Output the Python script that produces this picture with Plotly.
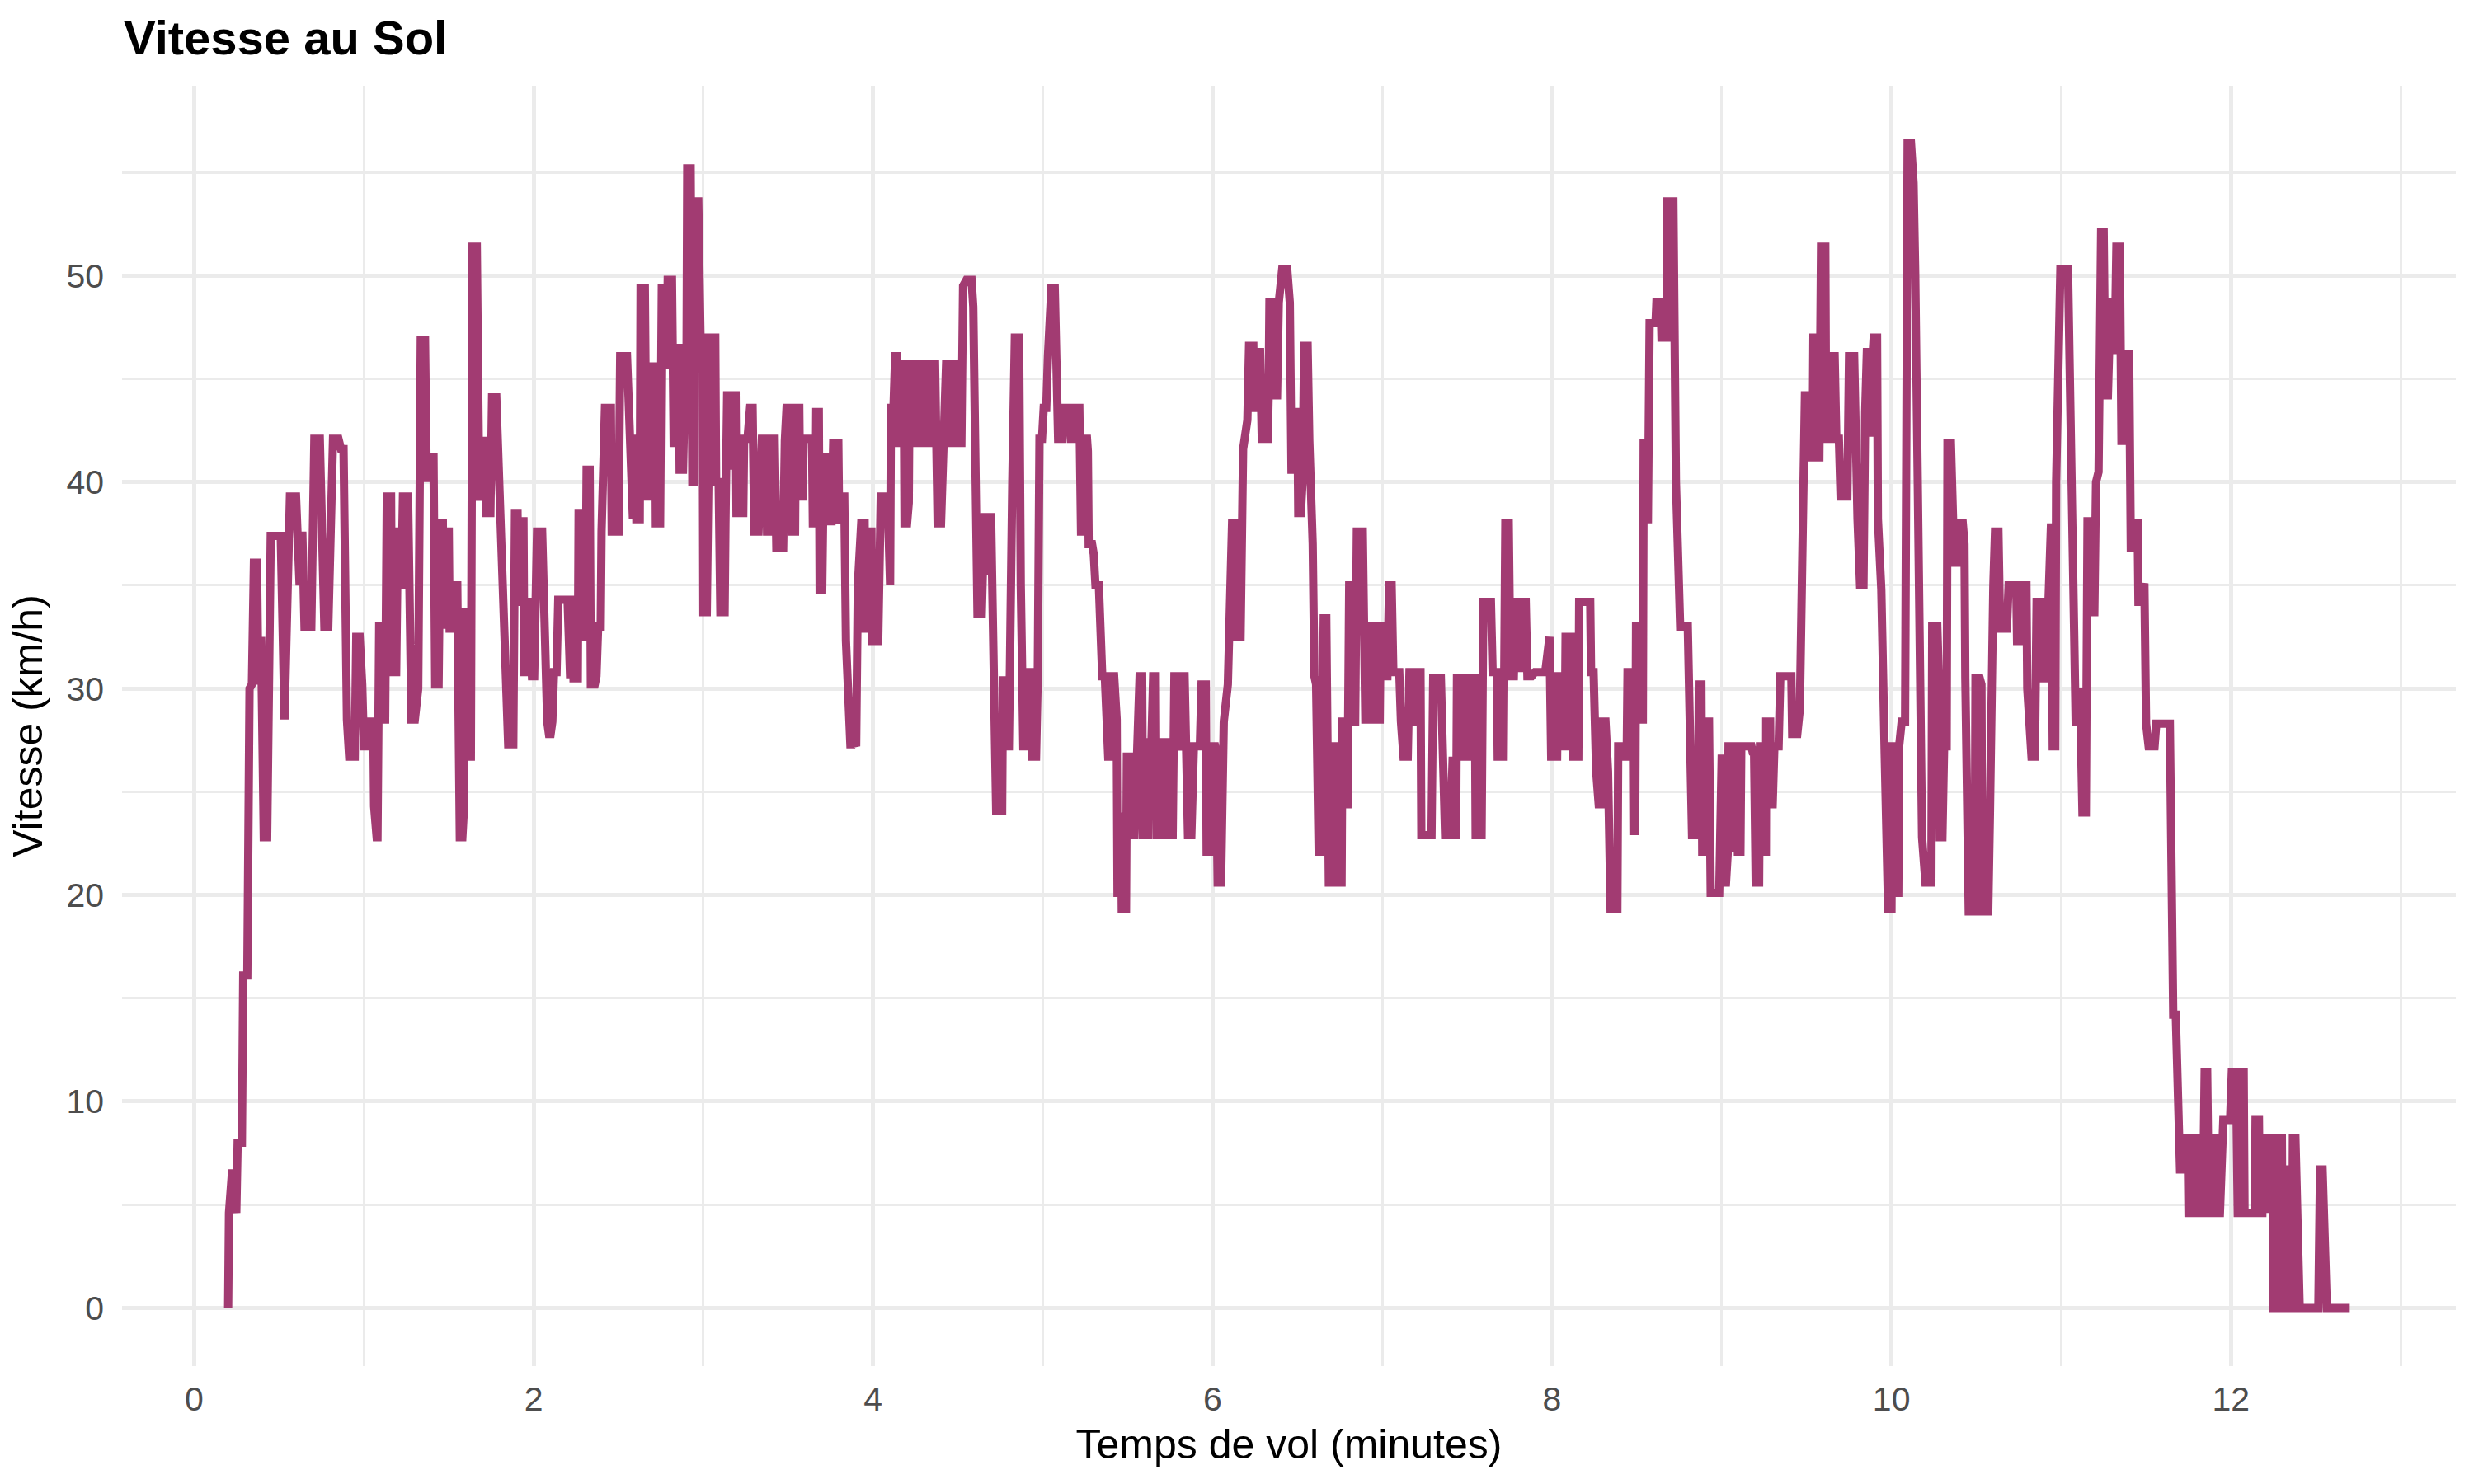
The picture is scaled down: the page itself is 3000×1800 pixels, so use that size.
import plotly.graph_objects as go

# Temps de vol (minutes) et vitesse au sol (km/h)
temps_min = [
    0.200, 0.205, 0.224, 0.248, 0.256, 0.281, 0.289, 0.313, 0.326, 0.340, 0.352, 0.370, 0.378, 0.394, 0.410, 0.430,
    0.451, 0.510, 0.532, 0.550, 0.564, 0.600, 0.621, 0.637, 0.650, 0.690, 0.708, 0.740, 0.750, 0.767, 0.790, 0.800,
    0.808, 0.818, 0.850, 0.865, 0.880, 0.892, 0.900, 0.913, 0.946, 0.955, 0.975, 0.990, 1.000, 1.020, 1.035, 1.055,
    1.060, 1.075, 1.080, 1.090, 1.105, 1.110, 1.125, 1.135, 1.160, 1.165, 1.190, 1.200, 1.215, 1.220, 1.230, 1.260,
    1.280, 1.300, 1.320, 1.335, 1.360, 1.370, 1.385, 1.395, 1.410, 1.420, 1.440, 1.450, 1.465, 1.470, 1.485, 1.500,
    1.505, 1.520, 1.535, 1.550, 1.565, 1.580, 1.590, 1.595, 1.605, 1.612, 1.630, 1.640, 1.665, 1.680, 1.695, 1.710,
    1.720, 1.745, 1.755, 1.780, 1.800, 1.820, 1.850, 1.880, 1.890, 1.905, 1.910, 1.920, 1.940, 1.945, 1.960, 1.970,
    1.990, 2.003, 2.010, 2.020, 2.050, 2.070, 2.080, 2.090, 2.100, 2.110, 2.120, 2.135, 2.145, 2.200, 2.205, 2.215,
    2.220, 2.230, 2.235, 2.260, 2.265, 2.285, 2.290, 2.305, 2.312, 2.330, 2.337, 2.360, 2.370, 2.380, 2.395, 2.400,
    2.420, 2.455, 2.460, 2.500, 2.510, 2.550, 2.570, 2.575, 2.585, 2.590, 2.600, 2.605, 2.625, 2.630, 2.655, 2.665,
    2.685, 2.690, 2.700, 2.715, 2.720, 2.745, 2.755, 2.775, 2.782, 2.790, 2.815, 2.825, 2.835, 2.840, 2.855, 2.860,
    2.880, 2.890, 2.900, 2.905, 2.925, 2.935, 2.945, 2.950, 2.970, 2.983, 2.995, 3.000, 3.020, 3.040, 3.070, 3.075,
    3.090, 3.100, 3.125, 3.130, 3.140, 3.160, 3.165, 3.175, 3.190, 3.195, 3.235, 3.240, 3.260, 3.275, 3.290, 3.300,
    3.325, 3.345, 3.370, 3.375, 3.395, 3.400, 3.420, 3.430, 3.470, 3.480, 3.490, 3.515, 3.520, 3.540, 3.545, 3.565,
    3.570, 3.585, 3.590, 3.640, 3.645, 3.660, 3.665, 3.680, 3.685, 3.700, 3.710, 3.730, 3.735, 3.755, 3.765, 3.795,
    3.800, 3.815, 3.830, 3.840, 3.850, 3.866, 3.895, 3.900, 3.910, 3.930, 3.950, 3.955, 3.970, 3.975, 3.990, 3.995,
    4.030, 4.040, 4.045, 4.085, 4.090, 4.100, 4.105, 4.120, 4.130, 4.140, 4.145, 4.160, 4.170, 4.180, 4.185, 4.200,
    4.210, 4.215, 4.235, 4.240, 4.260, 4.265, 4.290, 4.295, 4.330, 4.335, 4.365, 4.380, 4.400, 4.420, 4.430, 4.450,
    4.455, 4.470, 4.475, 4.490, 4.495, 4.520, 4.530, 4.550, 4.580, 4.590, 4.600, 4.615, 4.640, 4.650, 4.655, 4.670,
    4.675, 4.680, 4.695, 4.700, 4.710, 4.725, 4.760, 4.765, 4.780, 4.785, 4.800, 4.810, 4.820, 4.835, 4.860, 4.870,
    4.885, 4.910, 4.915, 4.930, 4.935, 4.960, 4.970, 4.980, 4.995, 5.005, 5.020, 5.030, 5.050, 5.070, 5.090, 5.115,
    5.125, 5.160, 5.165, 5.185, 5.190, 5.215, 5.225, 5.240, 5.245, 5.260, 5.265, 5.270, 5.290, 5.300, 5.310, 5.330,
    5.350, 5.365, 5.385, 5.400, 5.405, 5.420, 5.435, 5.440, 5.455, 5.460, 5.465, 5.490, 5.495, 5.520, 5.525, 5.540,
    5.545, 5.555, 5.570, 5.585, 5.590, 5.620, 5.625, 5.640, 5.650, 5.665, 5.670, 5.685, 5.690, 5.700, 5.705, 5.720,
    5.725, 5.740, 5.745, 5.765, 5.775, 5.800, 5.810, 5.820, 5.835, 5.840, 5.855, 5.875, 5.890, 5.925, 5.935, 5.960,
    5.965, 5.990, 6.000, 6.015, 6.020, 6.030, 6.050, 6.066, 6.090, 6.115, 6.135, 6.140, 6.165, 6.180, 6.205, 6.215,
    6.240, 6.245, 6.255, 6.262, 6.280, 6.290, 6.325, 6.330, 6.335, 6.355, 6.360, 6.380, 6.390, 6.410, 6.440, 6.455,
    6.465, 6.480, 6.487, 6.500, 6.505, 6.520, 6.530, 6.540, 6.560, 6.570, 6.590, 6.600, 6.610, 6.625, 6.640, 6.655,
    6.670, 6.685, 6.720, 6.725, 6.740, 6.745, 6.760, 6.765, 6.780, 6.785, 6.795, 6.805, 6.825, 6.830, 6.840, 6.850,
    6.885, 6.900, 6.925, 6.930, 6.950, 6.955, 6.985, 6.990, 7.005, 7.010, 7.030, 7.040, 7.055, 7.065, 7.100, 7.110,
    7.125, 7.150, 7.160, 7.175, 7.180, 7.200, 7.210, 7.225, 7.230, 7.290, 7.300, 7.345, 7.360, 7.370, 7.400, 7.405,
    7.415, 7.420, 7.435, 7.440, 7.460, 7.465, 7.485, 7.490, 7.505, 7.510, 7.525, 7.530, 7.545, 7.550, 7.585, 7.595,
    7.640, 7.650, 7.675, 7.680, 7.715, 7.725, 7.745, 7.755, 7.775, 7.785, 7.800, 7.810, 7.825, 7.845, 7.855, 7.880,
    7.900, 7.960, 7.975, 7.985, 7.995, 8.030, 8.035, 8.055, 8.060, 8.075, 8.080, 8.120, 8.125, 8.155, 8.160, 8.225,
    8.230, 8.245, 8.260, 8.275, 8.290, 8.300, 8.315, 8.320, 8.330, 8.345, 8.385, 8.390, 8.420, 8.425, 8.440, 8.445,
    8.475, 8.480, 8.490, 8.495, 8.515, 8.525, 8.535, 8.540, 8.550, 8.555, 8.565, 8.575, 8.610, 8.615, 8.640, 8.645,
    8.675, 8.680, 8.715, 8.730, 8.745, 8.755, 8.800, 8.810, 8.825, 8.860, 8.865, 8.880, 8.885, 8.900, 8.905, 8.925,
    8.935, 8.985, 8.990, 9.000, 9.005, 9.025, 9.035, 9.040, 9.055, 9.060, 9.070, 9.075, 9.090, 9.095, 9.110, 9.115,
    9.175, 9.185, 9.190, 9.200, 9.220, 9.225, 9.235, 9.240, 9.260, 9.262, 9.285, 9.290, 9.300, 9.310, 9.335, 9.345,
    9.410, 9.415, 9.445, 9.460, 9.470, 9.480, 9.490, 9.510, 9.520, 9.535, 9.540, 9.555, 9.560, 9.575, 9.585, 9.610,
    9.615, 9.635, 9.645, 9.665, 9.675, 9.690, 9.700, 9.740, 9.750, 9.780, 9.790, 9.800, 9.815, 9.835, 9.845, 9.855,
    9.875, 9.880, 9.890, 9.895, 9.915, 9.920, 9.940, 9.950, 9.960, 9.980, 10.000, 10.005, 10.020, 10.025, 10.040, 10.045,
    10.060, 10.080, 10.095, 10.115, 10.130, 10.140, 10.155, 10.165, 10.180, 10.200, 10.235, 10.240, 10.270, 10.280, 10.285, 10.300,
    10.310, 10.325, 10.330, 10.350, 10.370, 10.390, 10.395, 10.420, 10.430, 10.435, 10.440, 10.455, 10.490, 10.495, 10.520, 10.530,
    10.535, 10.570, 10.580, 10.590, 10.600, 10.610, 10.630, 10.640, 10.680, 10.690, 10.735, 10.740, 10.770, 10.780, 10.795, 10.800,
    10.825, 10.845, 10.855, 10.885, 10.895, 10.910, 10.930, 10.940, 10.950, 10.965, 10.970, 10.980, 10.995, 11.040, 11.050, 11.060,
    11.085, 11.100, 11.110, 11.125, 11.145, 11.155, 11.165, 11.170, 11.195, 11.205, 11.220, 11.235, 11.250, 11.260, 11.275, 11.290,
    11.310, 11.315, 11.325, 11.345, 11.355, 11.370, 11.380, 11.400, 11.410, 11.425, 11.435, 11.450, 11.455, 11.470, 11.480, 11.490,
    11.500, 11.515, 11.550, 11.560, 11.640, 11.660, 11.675, 11.690, 11.700, 11.715, 11.720, 11.745, 11.750, 11.765, 11.775, 11.800,
    11.810, 11.835, 11.845, 11.860, 11.870, 11.885, 11.890, 11.905, 11.910, 11.935, 11.955, 11.995, 12.005, 12.030, 12.040, 12.055,
    12.060, 12.075, 12.080, 12.140, 12.145, 12.165, 12.170, 12.185, 12.190, 12.205, 12.210, 12.220, 12.230, 12.245, 12.250, 12.275,
    12.280, 12.300, 12.305, 12.320, 12.325, 12.340, 12.345, 12.360, 12.365, 12.380, 12.405, 12.515, 12.525, 12.540, 12.565, 12.700,
]

vitesse_kmh = [
    0.0, 4.6, 6.7, 4.6, 8.0, 8.0, 16.1, 16.1, 30.0, 30.2, 36.1, 36.1, 30.2, 32.5, 22.8, 22.8,
    37.4, 37.4, 28.5, 37.6, 39.3, 39.3, 35.0, 37.6, 33.0, 33.0, 42.1, 42.1, 37.4, 33.0, 33.0, 37.6,
    37.2, 42.1, 42.1, 41.6, 41.6, 32.3, 28.5, 26.7, 26.7, 32.5, 32.5, 30.2, 27.2, 27.2, 28.4, 28.4,
    24.3, 22.8, 22.8, 33.0, 33.0, 28.5, 28.5, 39.3, 39.3, 30.8, 30.8, 37.6, 37.6, 34.8, 39.3, 39.3,
    28.5, 28.5, 30.0, 46.9, 46.9, 40.2, 40.2, 41.2, 41.2, 30.2, 30.2, 38.0, 38.0, 32.9, 37.6, 37.6,
    32.9, 32.9, 35.0, 35.0, 22.8, 22.8, 24.3, 33.7, 33.7, 26.7, 26.7, 51.4, 51.4, 39.1, 42.0, 42.0,
    38.5, 38.5, 44.1, 44.1, 40.0, 34.8, 27.3, 27.3, 38.5, 38.5, 34.0, 38.1, 38.1, 30.8, 30.8, 34.4,
    30.6, 30.6, 35.0, 37.6, 37.6, 30.0, 28.4, 27.8, 27.8, 28.4, 30.8, 30.8, 34.3, 34.3, 30.5, 30.5,
    34.3, 34.3, 30.5, 30.5, 38.5, 38.5, 32.5, 32.5, 40.6, 40.6, 30.2, 30.2, 30.6, 33.0, 33.0, 37.6,
    43.6, 43.6, 37.6, 37.6, 46.1, 46.1, 41.6, 38.2, 38.2, 42.1, 42.1, 38.2, 38.2, 49.4, 49.4, 39.3,
    39.3, 41.7, 45.6, 45.6, 38.0, 38.0, 49.4, 49.4, 45.5, 49.8, 49.8, 41.9, 41.9, 46.5, 46.5, 40.6,
    40.6, 44.2, 44.2, 55.2, 55.2, 40.0, 40.0, 53.6, 53.6, 47.0, 47.0, 33.7, 33.7, 47.0, 47.0, 40.0,
    40.0, 33.7, 33.7, 38.0, 44.2, 44.2, 40.6, 44.2, 44.2, 38.5, 38.5, 42.1, 42.1, 43.6, 43.6, 37.6,
    37.6, 42.1, 42.1, 37.6, 37.6, 42.1, 42.1, 36.8, 36.8, 42.0, 43.6, 43.6, 37.6, 37.6, 43.6, 43.6,
    39.3, 39.3, 42.1, 42.1, 38.0, 38.0, 43.4, 43.4, 34.8, 34.8, 41.2, 41.2, 38.1, 38.1, 41.9, 41.9,
    38.0, 39.3, 39.3, 32.3, 30.8, 27.3, 27.3, 27.2, 35.0, 38.0, 38.0, 32.9, 32.9, 37.6, 37.6, 32.3,
    32.3, 37.6, 39.3, 39.3, 35.0, 35.0, 43.6, 43.6, 46.1, 46.1, 41.9, 41.9, 45.7, 45.7, 38.0, 38.0,
    39.0, 45.7, 45.7, 41.9, 41.9, 45.7, 45.7, 41.9, 41.9, 45.7, 45.7, 38.0, 38.0, 41.9, 45.7, 45.7,
    41.9, 41.9, 45.7, 45.7, 41.9, 41.9, 49.5, 49.8, 49.8, 48.5, 40.0, 33.6, 33.6, 35.5, 38.3, 38.3,
    35.5, 38.3, 38.3, 35.5, 27.6, 24.1, 24.1, 30.4, 30.4, 27.2, 27.2, 38.0, 40.0, 47.0, 47.0, 35.0,
    27.2, 27.2, 30.8, 30.8, 26.7, 26.7, 30.6, 42.1, 42.1, 43.6, 43.6, 46.1, 49.4, 49.4, 42.1, 42.1,
    43.6, 43.6, 42.1, 42.1, 43.6, 43.6, 37.6, 37.6, 42.1, 42.1, 41.5, 37.0, 37.0, 36.5, 35.0, 35.0,
    30.6, 30.6, 26.7, 26.7, 30.6, 30.6, 28.5, 20.1, 20.1, 24.0, 19.3, 19.3, 26.7, 26.7, 22.9, 22.9,
    26.8, 26.8, 30.6, 30.6, 22.9, 22.9, 27.4, 27.4, 30.6, 30.6, 22.9, 22.9, 27.4, 27.4, 22.9, 22.9,
    27.4, 27.4, 22.9, 22.9, 30.6, 30.6, 27.0, 30.6, 30.6, 27.0, 22.9, 22.9, 27.2, 27.2, 30.2, 30.2,
    22.1, 22.1, 27.2, 27.2, 27.0, 20.6, 20.6, 28.4, 30.2, 38.0, 38.0, 32.5, 32.5, 41.6, 43.0, 46.6,
    46.6, 43.6, 43.6, 46.3, 46.3, 42.1, 42.1, 44.0, 48.7, 48.7, 44.2, 44.2, 48.7, 50.3, 50.3, 48.7,
    40.6, 40.6, 43.4, 43.4, 38.5, 38.5, 40.0, 46.6, 46.6, 42.0, 37.0, 30.6, 30.2, 22.1, 22.1, 33.4,
    33.4, 20.6, 20.6, 27.2, 27.2, 20.6, 20.6, 28.4, 28.4, 24.4, 24.4, 35.0, 35.0, 28.4, 28.4, 37.6,
    37.6, 28.5, 28.5, 33.0, 33.0, 28.5, 28.5, 33.0, 33.0, 30.6, 30.6, 35.0, 35.0, 30.8, 30.8, 28.4,
    26.7, 26.7, 30.8, 30.8, 28.4, 28.4, 30.8, 30.8, 22.9, 22.9, 30.5, 30.5, 27.2, 22.9, 22.9, 26.7,
    26.7, 22.9, 22.9, 30.5, 30.5, 26.7, 26.7, 30.5, 30.5, 26.7, 26.7, 30.5, 30.5, 22.9, 22.9, 34.2,
    34.2, 30.8, 30.8, 26.7, 26.7, 38.0, 38.0, 30.6, 30.6, 34.2, 34.2, 30.8, 34.2, 34.2, 30.6, 30.6,
    30.8, 30.8, 32.5, 32.5, 26.7, 26.7, 30.6, 30.6, 27.2, 27.2, 32.5, 32.5, 26.7, 26.7, 34.2, 34.2,
    30.8, 30.8, 26.0, 24.4, 24.4, 28.4, 28.4, 27.2, 26.0, 19.3, 19.3, 27.2, 27.2, 26.7, 26.7, 30.8,
    30.8, 23.1, 23.1, 33.0, 33.0, 28.5, 28.5, 41.9, 41.9, 38.2, 38.2, 47.7, 47.7, 48.7, 48.7, 47.0,
    47.0, 53.6, 53.6, 40.0, 35.1, 33.0, 33.0, 26.8, 22.9, 22.9, 30.2, 30.2, 22.1, 22.1, 28.4, 28.4,
    20.1, 20.1, 26.8, 26.8, 20.6, 20.6, 22.0, 27.2, 27.2, 22.1, 22.1, 27.2, 27.2, 22.1, 22.1, 27.2,
    27.2, 26.8, 27.2, 20.6, 20.6, 27.2, 27.2, 22.1, 22.1, 28.4, 28.4, 24.4, 24.4, 27.2, 27.2, 30.6,
    30.6, 27.8, 27.8, 29.0, 34.2, 35.2, 44.2, 44.2, 41.2, 41.2, 47.0, 47.0, 41.2, 41.2, 51.4, 51.4,
    42.1, 42.1, 46.1, 46.1, 42.1, 42.1, 39.3, 39.3, 46.1, 46.1, 39.3, 38.2, 35.0, 35.0, 43.4, 46.3,
    46.3, 42.2, 46.3, 47.0, 47.0, 38.2, 34.8, 27.6, 26.8, 19.3, 19.3, 27.2, 27.2, 20.1, 20.1, 27.2,
    28.4, 28.4, 56.4, 56.4, 54.5, 50.0, 40.0, 34.0, 22.8, 20.6, 20.6, 33.0, 33.0, 30.2, 22.8, 22.8,
    27.2, 27.2, 41.9, 41.9, 36.1, 36.1, 38.0, 38.0, 37.0, 30.5, 27.2, 19.2, 19.2, 30.5, 30.5, 30.2,
    19.2, 19.2, 24.0, 33.0, 35.0, 37.6, 37.6, 32.9, 32.9, 35.0, 35.0, 32.3, 32.3, 35.0, 35.0, 30.0,
    26.7, 26.7, 34.2, 34.2, 30.5, 30.5, 38.0, 38.0, 27.2, 27.2, 40.0, 43.0, 50.3, 50.3, 46.2, 40.0,
    28.4, 28.4, 30.0, 24.0, 24.0, 38.1, 38.1, 33.7, 33.7, 40.0, 40.5, 52.1, 52.1, 44.2, 44.2, 48.7,
    48.7, 46.2, 51.4, 51.4, 42.0, 42.0, 46.2, 46.2, 36.8, 36.8, 38.0, 38.0, 34.2, 34.2, 35.1, 35.1,
    28.3, 27.2, 27.2, 28.3, 28.3, 14.2, 14.2, 8.2, 6.7, 6.7, 8.2, 8.2, 4.6, 4.6, 8.2, 8.2,
    4.6, 4.6, 11.4, 11.4, 4.6, 4.6, 8.2, 8.2, 4.6, 4.6, 9.1, 9.1, 11.4, 11.4, 4.6, 4.6,
    11.4, 11.4, 4.6, 4.6, 9.1, 9.1, 4.6, 4.6, 8.2, 8.2, 4.6, 4.6, 8.2, 8.2, 0.0, 0.0,
    8.2, 8.2, 0.0, 0.0, 6.7, 6.7, 0.0, 0.0, 8.2, 8.2, 0.0, 0.0, 6.7, 6.7, 0.0, 0.0,
]

x_ticks = [0, 2, 4, 6, 8, 10, 12]
y_ticks = [0, 10, 20, 30, 40, 50]

assert len(temps_min) == len(vitesse_kmh), (len(temps_min), len(vitesse_kmh))

COULEUR = "#A23B72"
GRID = "#EBEBEB"
FONT = "Liberation Sans, Arial, Helvetica, sans-serif"

fig = go.Figure(
    go.Scatter(
        x=temps_min,
        y=vitesse_kmh,
        mode="lines",
        line=dict(color=COULEUR, width=10),
        showlegend=False,
    )
)

fig.update_layout(
    width=3000,
    height=1800,
    plot_bgcolor="white",
    paper_bgcolor="white",
    margin=dict(l=148, r=22, t=104, b=143),
    font=dict(family=FONT, color="#000000"),
    title=dict(
        text="<b>Vitesse au Sol</b>",
        font=dict(family=FONT, size=58, color="#000000"),
        x=150 / 3000,
        xanchor="left",
        xref="container",
        y=1 - 46 / 1800,
        yanchor="middle",
        yref="container",
    ),
    showlegend=False,
)

fig.update_xaxes(
    range=[-0.425, 13.325],
    tickvals=x_ticks,
    ticktext=[str(v) for v in x_ticks],
    showgrid=True,
    gridcolor=GRID,
    gridwidth=5,
    minor=dict(dtick=1, tick0=0, showgrid=True, gridcolor=GRID, gridwidth=2.5),
    zeroline=False,
    showline=False,
    ticks="",
    automargin=False,
    ticklabelstandoff=12,
    tickfont=dict(family=FONT, size=41, color="#4D4D4D"),
    title=dict(text="Temps de vol (minutes)", font=dict(family=FONT, size=50, color="#000000"), standoff=14),
)

fig.update_yaxes(
    range=[-2.82, 59.2],
    tickvals=y_ticks,
    ticktext=[str(v) for v in y_ticks],
    showgrid=True,
    gridcolor=GRID,
    gridwidth=5,
    minor=dict(dtick=5, tick0=0, showgrid=True, gridcolor=GRID, gridwidth=2.5),
    zeroline=False,
    showline=False,
    ticks="",
    automargin=False,
    ticklabelstandoff=21,
    tickfont=dict(family=FONT, size=41, color="#4D4D4D"),
    title=dict(text="Vitesse (km/h)", font=dict(family=FONT, size=50, color="#000000"), standoff=12),
)

fig.write_html(
    "out.html",
    config={"displayModeBar": False},
    post_script="document.body.style.margin='0';document.body.style.padding='0';",
)
